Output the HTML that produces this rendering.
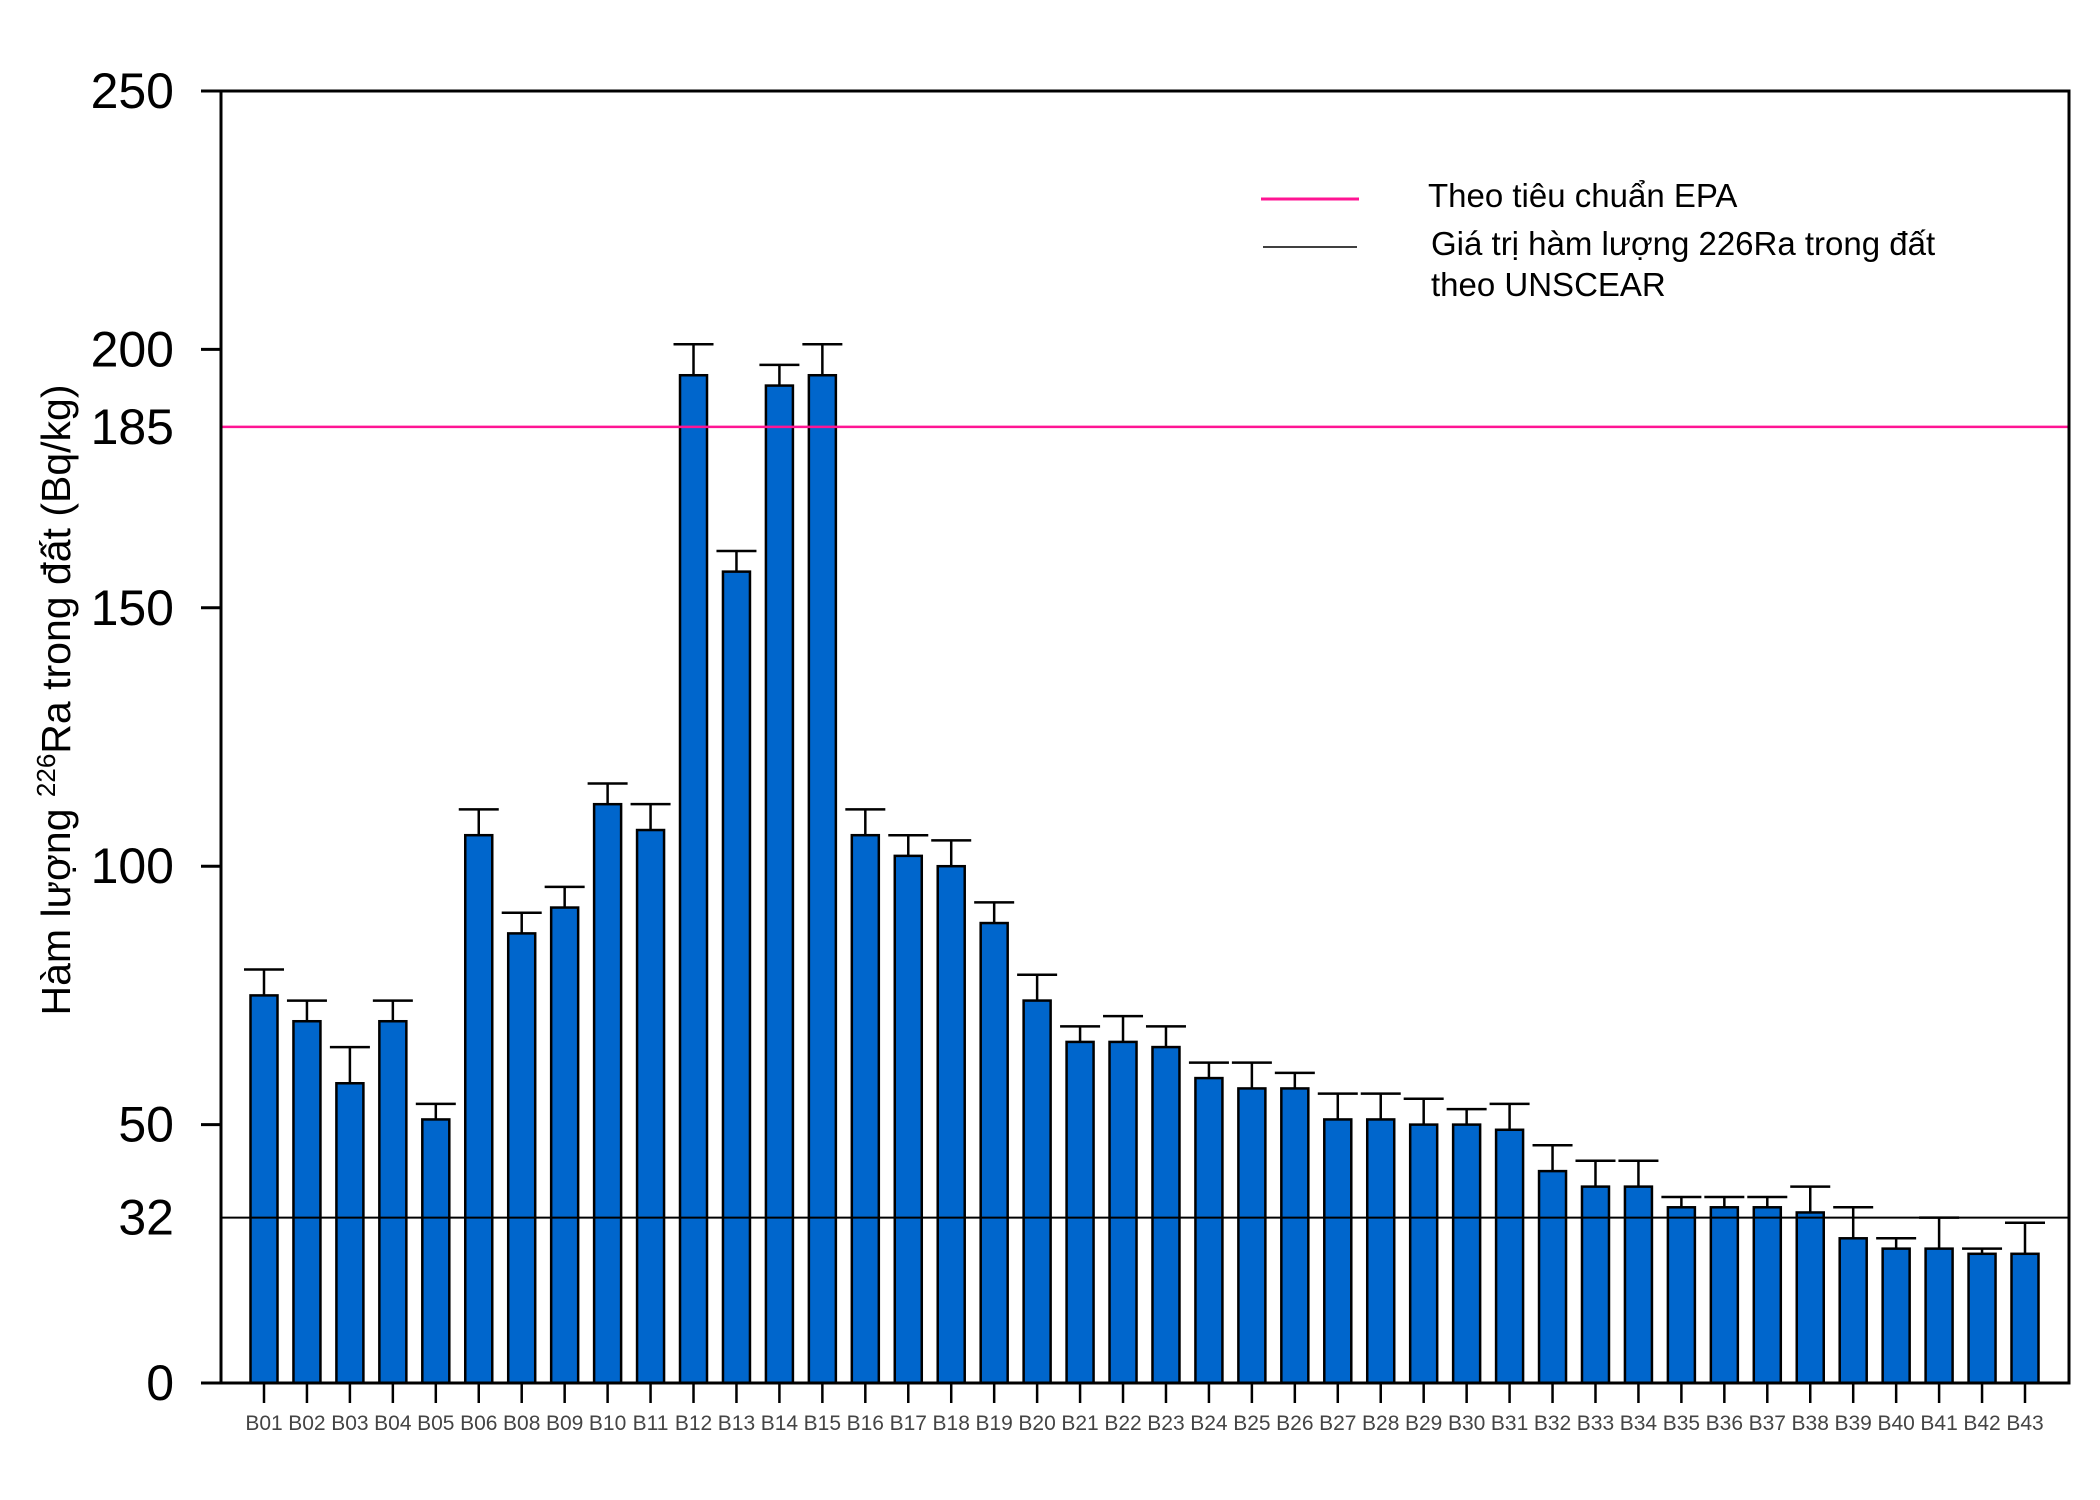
<!DOCTYPE html>
<html><head><meta charset="utf-8"><style>
html,body{margin:0;padding:0;background:#fff;}
svg{display:block;font-family:"Liberation Sans",sans-serif;}
</style></head><body>
<svg id="chart" width="2100" height="1500" viewBox="0 0 2100 1500" xmlns="http://www.w3.org/2000/svg"></svg>
<script>
const categories=["B01","B02","B03","B04","B05","B06","B08","B09","B10","B11","B12","B13","B14","B15","B16","B17","B18","B19","B20","B21","B22","B23","B24","B25","B26","B27","B28","B29","B30","B31","B32","B33","B34","B35","B36","B37","B38","B39","B40","B41","B42","B43"];
const values=[75,70,58,70,51,106,87,92,112,107,195,157,193,195,106,102,100,89,74,66,66,65,59,57,57,51,51,50,50,49,41,38,38,34,34,34,33,28,26,26,25,25];
const errorTops=[80,74,65,74,54,111,91,96,116,112,201,161,197,201,111,106,105,93,79,69,71,69,62,62,60,56,56,55,53,54,46,43,43,36,36,36,38,34,28,32,26,31];
const yTicks=[0,50,100,150,200,250];
const yLabels=[0,32,50,100,150,185,200,250];
const epaValue=185, unscearValue=32;

const NS="http://www.w3.org/2000/svg";
const svg=document.getElementById('chart');
const L=221,R=2069,T=91,B=1383,yMax=250;
const x0=264,step=(2025-264)/41,barW=27,capW=40;
function y(v){return B-(v/yMax)*(B-T);}
function xc(i){return x0+i*step;}
function el(tag,attrs,parent){const e=document.createElementNS(NS,tag);for(const k in attrs)e.setAttribute(k,attrs[k]);(parent||svg).appendChild(e);return e;}

categories.forEach((c,i)=>{
  const g=el('g',{});
  
  
  const cx=xc(i);
  el('line',{x1:cx,x2:cx,y1:y(values[i]),y2:y(errorTops[i]),stroke:'#000','stroke-width':2.5},g);
  el('line',{x1:cx-capW/2,x2:cx+capW/2,y1:y(errorTops[i]),y2:y(errorTops[i]),stroke:'#000','stroke-width':2.5},g);
  el('rect',{x:cx-barW/2,y:y(values[i]),width:barW,height:B-y(values[i]),fill:'#0066cc',stroke:'#000','stroke-width':2.5},g);
  const t=el('text',{x:cx,y:1430,'text-anchor':'middle','font-size':21,fill:'#444'});
  t.textContent=c;
  
  
  el('line',{x1:cx,x2:cx,y1:B,y2:B+20,stroke:'#000','stroke-width':2.5});
});

const epa=el('line',{x1:L,x2:R,y1:y(epaValue),y2:y(epaValue),stroke:'#ff1493','stroke-width':2.5});


const un=el('line',{x1:L,x2:R,y1:y(unscearValue),y2:y(unscearValue),stroke:'#000','stroke-width':2});



const frame=el('rect',{x:L,y:T,width:R-L,height:B-T,fill:'none',stroke:'#000','stroke-width':3});


el('line',{x1:201,x2:L,y1:B,y2:B,stroke:'#000','stroke-width':3});
yTicks.forEach(v=>{el('line',{x1:201,x2:L,y1:y(v),y2:y(v),stroke:'#000','stroke-width':3});});
yLabels.forEach(v=>{
  const t=el('text',{x:174,y:y(v)+17,'text-anchor':'end','font-size':50,fill:'#000'});
  t.textContent=v;
  
  
});

const yt=el('text',{transform:'translate(70,700) rotate(-90)','text-anchor':'middle','font-size':41,fill:'#000'});


yt.innerHTML='Hàm lượng <tspan font-size="26" dy="-15">226</tspan><tspan dy="15">Ra trong đất (Bq/kg)</tspan>';

const lg=el('g',{});


el('line',{x1:1261,x2:1359,y1:199,y2:199,stroke:'#ff1493','stroke-width':3},lg);
el('line',{x1:1263,x2:1357,y1:247,y2:247,stroke:'#000','stroke-width':1.5},lg);
const t1=el('text',{x:1428,y:207,'font-size':33,fill:'#000'},lg);t1.textContent='Theo tiêu chuẩn EPA';
const t2=el('text',{x:1431,y:255,'font-size':33,fill:'#000'},lg);t2.textContent='Giá trị hàm lượng 226Ra trong đất';
const t3=el('text',{x:1431,y:296,'font-size':33,fill:'#000'},lg);t3.textContent='theo UNSCEAR';
</script>
</body></html>
